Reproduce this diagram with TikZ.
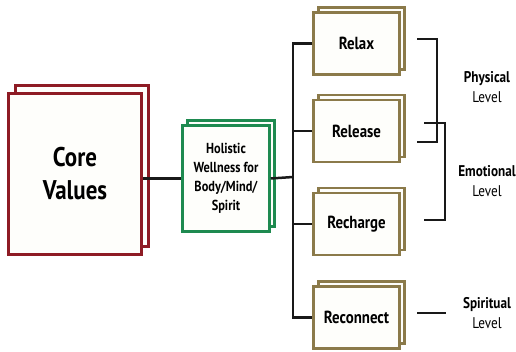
\documentclass[tikz,border=0pt]{standalone}
\usepackage{fontspec}
\setmainfont{PT Sans}[FakeStretch=0.85]
\usetikzlibrary{positioning,shadows}

\definecolor{coreRed}{RGB}{142,27,36}
\definecolor{wellGreen}{RGB}{30,138,80}
\definecolor{stepGold}{RGB}{139,122,74}
\definecolor{paper}{RGB}{254,254,251}

\tikzset{
  card/.style={draw, fill=paper, line width=2.5pt, align=center, inner sep=0pt,
    font=\bfseries},
  core card/.style={card, draw=coreRed, line width=3pt,
    minimum width=133pt, minimum height=161pt, font=\bfseries\fontsize{27}{33}\selectfont,
    copy shadow={shadow xshift=7pt, shadow yshift=8pt}},
  well card/.style={card, draw=wellGreen,
    minimum width=87pt, minimum height=106pt, font=\bfseries\fontsize{14.5}{19}\selectfont,
    copy shadow={shadow xshift=5pt, shadow yshift=5pt}},
  gold card/.style={card, draw=stepGold,
    minimum width=86pt, minimum height=62pt, font=\bfseries\fontsize{17.5}{21}\selectfont,
    copy shadow={shadow xshift=5pt, shadow yshift=5pt}},
  link/.style={line width=2.5pt, black!90},
  level/.style={align=center, font=\fontsize{15.5}{20}\selectfont},
}

\begin{document}
\begin{tikzpicture}
  [
    x=1pt, y=-1pt,
  ]
  \useasboundingbox (0,0) rectangle (516,352);

  % left side
  \node [core card] (core) at (75,174) {Core\\Values};
  \node [well card] (well) at (226,178.5) {Holistic\\Wellness for\\Body/Mind/\\Spirit};

  % the four steps
  \node [gold card] (relax)     at (356.5,43.5)  {Relax};
  \node [gold card] (release)   at (356.5,131)   {Release};
  \node [gold card] (recharge)  at (356.5,224)   {Recharge};
  \node [gold card] (reconnect) at (356.5,317.5) {Reconnect};

  % levels
  \node [level] (physical)  at (487,87)  {\textbf{Physical}\\Level};
  \node [level] (emotional) at (487,181) {\textbf{Emotional}\\Level};
  \node [level] (spiritual) at (487,313) {\textbf{Spiritual}\\Level};

  % tree
  \coordinate (trunk) at (293,177);
  \draw [link] (core.east |- well.west) -- (well.west);
  \draw [link] (well.east) -- (trunk);
  \draw [link] (relax.west) -| (trunk) |- (reconnect.west);
  \draw [link] (trunk |- release.west) -- (release.west);
  \draw [link] (trunk |- recharge.west) -- (recharge.west);

  % brackets
  \coordinate (phys top) at (417,39);
  \coordinate (phys bot) at (417,142);
  \coordinate (emo top)  at (424,123);
  \coordinate (emo bot)  at (424,220);
  \coordinate (spi a)    at (417,313);
  \coordinate (spi b)    at (446,313);
  \draw [link] (phys top) -- ++(20,0) |- (phys bot);
  \draw [link] (emo top) -- ++(21,0) |- (emo bot);
  \draw [link] (spi a) -- (spi b);
\end{tikzpicture}
\end{document}
